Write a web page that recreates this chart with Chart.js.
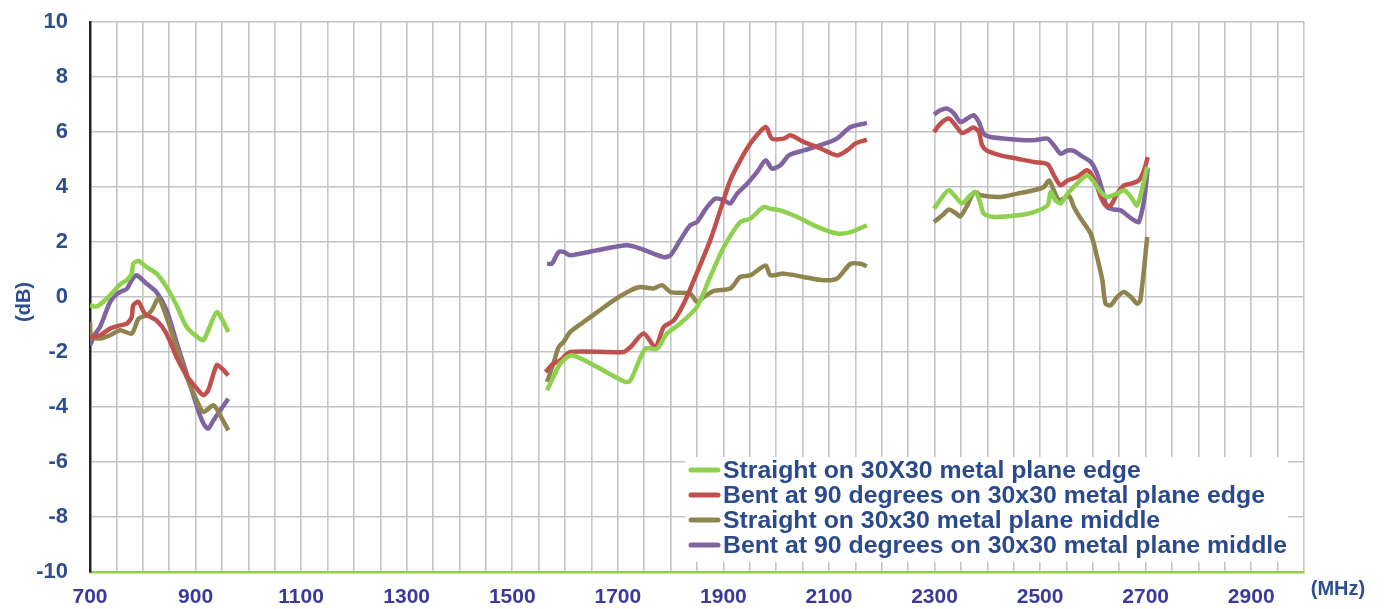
<!DOCTYPE html>
<html lang="en">
<head>
    <meta charset="UTF-8">
    <title>Gain vs frequency</title>
    <script src="https://cdn.jsdelivr.net/npm/chart.js"></script>
    <style>
        html, body { margin: 0; padding: 0; background: #fff; }
        #wrap { position: relative; width: 1387px; height: 609px; }
    </style>
</head>
<body>
    <div id="wrap">
        <canvas id="myChart" width="1387" height="609"></canvas>
    </div>

    <script>
        // Frequencies (MHz) and gains (dB); null = gap between bands
        const greenFreq = [700, 710, 719, 738, 757, 770, 779, 782, 792, 807, 826, 845, 864, 883, 905, 915, 924, 940, 953, 962,
            1300,
            1566, 1578, 1591, 1613, 1661, 1714, 1724, 1752, 1774, 1793, 1818, 1850, 1875, 1901, 1932, 1951, 1976, 1989, 2008, 2040, 2078, 2115, 2141, 2172,
            2240,
            2299, 2315, 2327, 2340, 2352, 2368, 2378, 2387, 2393, 2412, 2457, 2488, 2514, 2520, 2529, 2539, 2552, 2570, 2589, 2602, 2615, 2627, 2646, 2659, 2672, 2684, 2703];
        const greenDb = [-0.30, -0.35, -0.27, 0.06, 0.46, 0.62, 0.85, 1.21, 1.31, 1.09, 0.85, 0.36, -0.30, -1.09, -1.48, -1.57, -1.21, -0.55, -0.91, -1.27,
            null,
            -3.39, -2.91, -2.42, -2.12, -2.55, -3.09, -3.03, -1.88, -1.88, -1.33, -0.97, -0.36, 0.73, 1.82, 2.73, 2.85, 3.27, 3.21, 3.15, 2.91, 2.55, 2.31, 2.36, 2.61,
            null,
            3.21, 3.64, 3.88, 3.64, 3.40, 3.70, 3.82, 3.40, 3.03, 2.91, 2.97, 3.09, 3.33, 3.82, 3.52, 3.40, 3.76, 4.12, 4.43, 4.18, 3.82, 3.64, 3.76, 3.88, 3.64, 3.33, 4.73];

        const redFreq = [700, 719, 738, 757, 770, 779, 782, 792, 804, 826, 845, 864, 883, 905, 915, 924, 940, 950, 962,
            1300,
            1563, 1578, 1591, 1610, 1711, 1724, 1749, 1771, 1787, 1806, 1825, 1844, 1875, 1894, 1913, 1932, 1951, 1980, 1992, 2014, 2027, 2052, 2084, 2115, 2134, 2150, 2172,
            2240,
            2299, 2311, 2327, 2340, 2352, 2362, 2374, 2384, 2390, 2399, 2425, 2457, 2488, 2514, 2526, 2539, 2552, 2570, 2589, 2602, 2615, 2624, 2634, 2646, 2659, 2672, 2687, 2697, 2704];
        const redDb = [-1.45, -1.39, -1.15, -1.03, -0.97, -0.73, -0.30, -0.18, -0.61, -0.85, -1.33, -2.18, -2.85, -3.39, -3.57, -3.39, -2.48, -2.60, -2.85,
            null,
            -2.73, -2.42, -2.30, -2.00, -2.00, -1.82, -1.33, -1.82, -1.09, -0.85, -0.24, 0.61, 2.06, 3.15, 4.24, 4.97, 5.58, 6.18, 5.76, 5.76, 5.88, 5.64, 5.40, 5.15, 5.33, 5.58, 5.72,
            null,
            6.00, 6.30, 6.49, 6.24, 5.96, 6.04, 6.16, 6.00, 5.52, 5.33, 5.15, 5.03, 4.91, 4.83, 4.43, 4.06, 4.24, 4.36, 4.61, 4.31, 3.64, 3.33, 3.33, 3.76, 4.06, 4.12, 4.24, 4.61, 5.09];

        const oliveFreq = [700, 702, 719, 738, 757, 779, 792, 807, 817, 830, 845, 864, 883, 905, 915, 934, 950, 962,
            1300,
            1566, 1578, 1588, 1597, 1610, 1635, 1661, 1692, 1724, 1743, 1768, 1784, 1800, 1837, 1850, 1863, 1882, 1913, 1932, 1951, 1980, 1989, 2014, 2052, 2090, 2115, 2141, 2160, 2172,
            2240,
            2299, 2315, 2327, 2340, 2349, 2362, 2371, 2378, 2387, 2425, 2457, 2488, 2507, 2517, 2526, 2536, 2555, 2564, 2577, 2596, 2608, 2618, 2624, 2634, 2646, 2659, 2672, 2684, 2690, 2703];
        const oliveDb = [-0.91, -1.45, -1.51, -1.39, -1.21, -1.33, -0.79, -0.67, -0.48, -0.06, -0.73, -1.82, -2.91, -3.88, -4.18, -3.94, -4.42, -4.85,
            null,
            -3.09, -2.42, -1.82, -1.64, -1.27, -0.91, -0.55, -0.12, 0.24, 0.36, 0.31, 0.43, 0.18, 0.12, -0.18, 0.00, 0.22, 0.31, 0.73, 0.79, 1.15, 0.79, 0.85, 0.73, 0.61, 0.67, 1.21, 1.21, 1.12,
            null,
            2.73, 2.97, 3.18, 3.05, 2.93, 3.33, 3.70, 3.82, 3.70, 3.64, 3.76, 3.88, 4.00, 4.24, 3.88, 3.52, 3.66, 3.27, 2.85, 2.30, 1.45, 0.61, -0.24, -0.30, 0.00, 0.18, 0.00, -0.24, -0.12, 2.18];

        const purpleFreq = [700, 710, 719, 738, 748, 757, 770, 779, 788, 807, 826, 845, 864, 883, 905, 915, 924, 934, 962,
            1300,
            1566, 1575, 1588, 1597, 1610, 1661, 1717, 1743, 1787, 1800, 1818, 1837, 1850, 1869, 1885, 1901, 1913, 1926, 1945, 1964, 1980, 1992, 2008, 2024, 2052, 2084, 2115, 2141, 2172,
            2240,
            2299, 2311, 2324, 2337, 2349, 2362, 2374, 2384, 2393, 2406, 2457, 2488, 2514, 2526, 2539, 2552, 2564, 2577, 2596, 2608, 2618, 2627, 2640, 2653, 2665, 2678, 2687, 2697, 2704];
        const purpleDb = [-1.76, -1.33, -1.09, -0.18, 0.06, 0.18, 0.30, 0.61, 0.79, 0.49, 0.18, -0.48, -1.64, -2.79, -4.12, -4.60, -4.79, -4.48, -3.70,
            null,
            1.21, 1.21, 1.64, 1.64, 1.52, 1.70, 1.88, 1.76, 1.45, 1.52, 2.06, 2.61, 2.73, 3.27, 3.58, 3.52, 3.40, 3.76, 4.12, 4.55, 4.97, 4.67, 4.79, 5.15, 5.33, 5.52, 5.76, 6.18, 6.33,
            null,
            6.64, 6.79, 6.85, 6.67, 6.36, 6.49, 6.61, 6.36, 5.94, 5.82, 5.72, 5.70, 5.76, 5.52, 5.21, 5.33, 5.31, 5.15, 4.91, 4.49, 3.88, 3.27, 3.18, 3.15, 2.97, 2.79, 2.73, 3.52, 4.67];

        const seriesNames = [
            'Straight on 30X30 metal plane edge',
            'Bent at 90 degrees on 30x30 metal plane edge',
            'Straight on 30x30 metal plane middle',
            'Bent at 90 degrees on 30x30 metal plane middle'
        ];
        const seriesColors = ['#8fd14f', '#c0504d', '#8f8450', '#8064a2'];

        const xLabels = [700, 900, 1100, 1300, 1500, 1700, 1900, 2100, 2300, 2500, 2700, 2900];
        const yMin = -10, yMax = 10, yStep = 2;

        const pairs = (fs, ds) => fs.map((f, i) => ({ x: f, y: ds[i] }));
        const allSeries = [
            pairs(greenFreq, greenDb),
            pairs(redFreq, redDb),
            pairs(oliveFreq, oliveDb),
            pairs(purpleFreq, purpleDb)
        ];

        const FONT = '"Liberation Sans", Arial, sans-serif';

        // legend box and "(MHz)" / "(dB)" drawn inside the chart
        const extras = {
            id: 'extras',
            afterDraw(chart) {
                const ctx = chart.ctx;
                ctx.save();
                ctx.fillStyle = '#ffffff';
                ctx.fillRect(685, 457, 603, 105);
                ctx.font = 'bold 24px ' + FONT;
                ctx.textBaseline = 'middle';
                const rows = [470, 495, 520, 545];
                const longest = ctx.measureText(seriesNames[3]).width;
                const sx = 564 / longest;
                seriesNames.forEach((name, i) => {
                    ctx.strokeStyle = seriesColors[i];
                    ctx.lineWidth = 5;
                    ctx.lineCap = 'round';
                    ctx.beginPath();
                    ctx.moveTo(691, rows[i]);
                    ctx.lineTo(718, rows[i]);
                    ctx.stroke();
                    ctx.save();
                    ctx.translate(723, rows[i] + 1);
                    ctx.scale(sx, 1);
                    ctx.fillStyle = '#2a4a8c';
                    ctx.fillText(name, 0, 0);
                    ctx.restore();
                });
                ctx.font = 'bold 20px ' + FONT;
                ctx.fillStyle = '#2e4f8f';
                ctx.textAlign = 'center';
                ctx.fillText('(MHz)', 1338, 589);
                // dB label
                ctx.translate(24, 302);
                ctx.rotate(-Math.PI / 2);
                ctx.fillText('(dB)', 0, 0);
                ctx.restore();
            }
        };

        const ctx = document.getElementById('myChart').getContext('2d');
        const myChart = new Chart(ctx, {
            type: 'line',
            data: {
                datasets: allSeries.map((d, i) => ({
                    label: seriesNames[i],
                    data: d,
                    borderColor: seriesColors[i],
                    backgroundColor: seriesColors[i],
                    borderWidth: 4.5,
                    pointRadius: 0,
                    tension: 0.25,
                    spanGaps: false
                }))
            },
            options: {
                responsive: false,
                animation: false,
                layout: { padding: { left: 0, right: 83, top: 22, bottom: 0 } },
                plugins: {
                    legend: { display: false },
                    tooltip: { enabled: false }
                },
                scales: {
                    x: {
                        type: 'linear',
                        min: 700,
                        max: 3000,
                        afterFit: s => { s.height = 37; s.paddingLeft = 0; s.paddingRight = 0; },
                        afterBuildTicks: s => {
                            const t = [];
                            for (let v = 700; v <= 3000; v += 50) t.push({ value: v });
                            s.ticks = t;
                        },
                        ticks: {
                            autoSkip: false,
                            maxRotation: 0,
                            padding: 13,
                            color: '#3b3a9a',
                            font: { family: FONT, size: 21, weight: 'bold' },
                            callback: v => xLabels.includes(v) ? String(v) : ''
                        },
                        grid: { color: '#c4c4c4', lineWidth: 1.6, drawTicks: false },
                        border: { color: '#92d050', width: 2.5 }
                    },
                    y: {
                        min: yMin,
                        max: yMax,
                        afterFit: s => { s.width = 90; s.paddingTop = 0; s.paddingBottom = 0; },
                        ticks: {
                            stepSize: yStep,
                            padding: 22,
                            color: '#2e4f8f',
                            font: { family: FONT, size: 22, weight: 'bold' }
                        },
                        grid: { color: '#c4c4c4', lineWidth: 1.6, drawTicks: false },
                        border: { color: '#222222', width: 2.5 }
                    }
                }
            },
            plugins: [extras]
        });
    </script>
</body>
</html>
